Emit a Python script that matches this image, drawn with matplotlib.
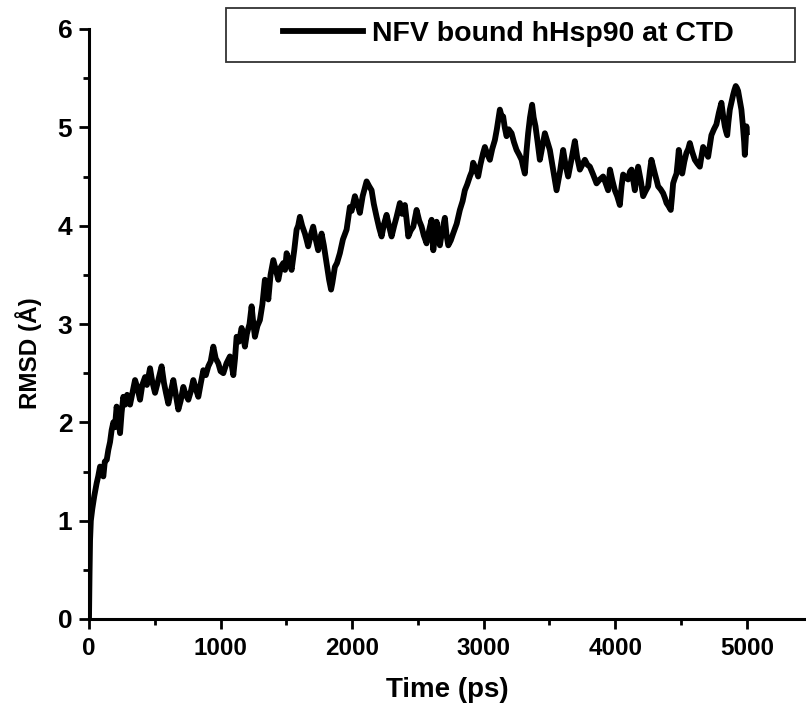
import matplotlib
matplotlib.use("Agg")
import matplotlib.pyplot as plt
from matplotlib.patches import Rectangle
from matplotlib.ticker import MultipleLocator

plt.rcParams['font.family'] = ['Liberation Sans', 'DejaVu Sans']
plt.rcParams['font.weight'] = 'bold'

series_label = "NFV bound hHsp90 at CTD"
x_label = "Time (ps)"
y_label = "RMSD (Å)"

time_ps = [0, 4, 8, 14, 25, 40, 58, 70, 84, 97, 109, 120, 135, 147, 160, 172, 185, 197, 210, 222,
           236, 248, 261, 275, 290, 312, 330, 350, 368, 388, 405, 426, 440, 464, 480, 502, 525, 552,
           570, 585, 603, 620, 641, 660, 679, 697, 717, 735, 755, 775, 793, 812, 831, 850, 869, 888,
           907, 925, 945, 963, 983, 1000, 1021, 1045, 1071, 1085, 1097, 1110, 1122, 1140, 1160, 1172,
           1185, 1200, 1220, 1236, 1248, 1261, 1280, 1299, 1318, 1337, 1350, 1363, 1380, 1401, 1420,
           1439, 1458, 1477, 1490, 1502, 1520, 1540, 1560, 1578, 1590, 1603, 1620, 1641, 1655, 1666,
           1685, 1704, 1720, 1742, 1755, 1768, 1785, 1806, 1825, 1840, 1850, 1869, 1885, 1907, 1930,
           1958, 1983, 1996, 2021, 2040, 2059, 2080, 2110, 2130, 2148, 2165, 2186, 2205, 2224, 2243,
           2262, 2280, 2300, 2320, 2338, 2363, 2380, 2401, 2415, 2427, 2445, 2465, 2490, 2510, 2528,
           2545, 2566, 2585, 2604, 2617, 2630, 2642, 2655, 2667, 2685, 2705, 2718, 2731, 2750, 2768,
           2795, 2819, 2840, 2857, 2875, 2895, 2910, 2920, 2940, 2958, 2975, 2996, 3009, 3030, 3047,
           3065, 3085, 3100, 3123, 3135, 3148, 3160, 3174, 3190, 3212, 3230, 3250, 3270, 3288, 3300,
           3313, 3325, 3338, 3352, 3368, 3380, 3394, 3410, 3427, 3445, 3465, 3485, 3503, 3530, 3554,
           3580, 3604, 3622, 3642, 3668, 3693, 3710, 3731, 3750, 3769, 3788, 3807, 3832, 3858, 3883,
           3908, 3925, 3946, 3960, 3978, 3997, 4015, 4035, 4048, 4060, 4080, 4098, 4112, 4124, 4137,
           4149, 4162, 4174, 4195, 4212, 4230, 4250, 4263, 4275, 4288, 4301, 4315, 4326, 4345, 4364,
           4378, 4390, 4405, 4422, 4432, 4440, 4452, 4466, 4475, 4483, 4496, 4509, 4525, 4541, 4555,
           4567, 4585, 4605, 4625, 4643, 4655, 4668, 4688, 4706, 4720, 4731, 4750, 4769, 4788, 4807,
           4820, 4833, 4842, 4851, 4860, 4871, 4884, 4896, 4906, 4916, 4925, 4934, 4946, 4959, 4970,
           4980, 4985, 4991, 4997, 5000]

rmsd = [0.00, 0.45, 0.80, 1.00, 1.12, 1.25, 1.38, 1.45, 1.55, 1.50, 1.45, 1.60, 1.62, 1.72, 1.80, 1.92, 2.00, 1.95, 2.16, 2.05,
        1.89, 2.10, 2.26, 2.18, 2.28, 2.18, 2.30, 2.43, 2.35, 2.23, 2.38, 2.46, 2.38, 2.55, 2.42, 2.30, 2.42, 2.57,
        2.40, 2.30, 2.19, 2.30, 2.43, 2.28, 2.13, 2.22, 2.36, 2.28, 2.23, 2.32, 2.43, 2.34, 2.26, 2.40, 2.53, 2.48,
        2.57, 2.62, 2.77, 2.65, 2.60, 2.52, 2.50, 2.60, 2.67, 2.58, 2.48, 2.65, 2.87, 2.82, 2.96, 2.88,
        2.77, 2.90, 3.00, 3.18, 3.02, 2.87, 2.98, 3.04, 3.20, 3.45, 3.38, 3.25, 3.50, 3.65, 3.55,
        3.45, 3.58, 3.62, 3.55, 3.72, 3.65, 3.55, 3.75, 3.96, 4.00, 4.09, 4.00, 3.92, 3.85, 3.79,
        3.90, 3.99, 3.88, 3.75, 3.85, 3.92, 3.80, 3.62, 3.45, 3.35, 3.42, 3.58, 3.62, 3.72, 3.86,
        3.96, 4.19, 4.15, 4.30, 4.22, 4.13, 4.30, 4.45, 4.40, 4.36, 4.22, 4.09, 3.98, 3.89, 4.02,
        4.11, 4.00, 3.89, 4.00, 4.09, 4.23, 4.12, 4.21, 4.05, 3.89, 3.95, 3.99, 4.16, 4.05, 3.99,
        3.90, 3.82, 3.95, 4.06, 3.75, 3.90, 4.04, 3.88, 3.80, 3.95, 4.08, 3.90, 3.80, 3.85, 3.92,
        4.02, 4.16, 4.25, 4.36, 4.42, 4.50, 4.55, 4.64, 4.58, 4.50, 4.62, 4.74, 4.80, 4.72, 4.67,
        4.78, 4.87, 4.98, 5.18, 5.12, 5.11, 5.00, 4.91, 4.98, 4.94, 4.85, 4.77, 4.72, 4.67, 4.60,
        4.53, 4.75, 4.94, 5.10, 5.23, 5.10, 5.01, 4.85, 4.67, 4.80, 4.94, 4.85, 4.77, 4.55, 4.36,
        4.55, 4.77, 4.62, 4.50, 4.68, 4.86, 4.70, 4.57, 4.62, 4.67, 4.62, 4.60, 4.52, 4.43, 4.47,
        4.50, 4.44, 4.36, 4.57, 4.46, 4.36, 4.30, 4.21, 4.40, 4.52, 4.49, 4.47, 4.55, 4.57, 4.46,
        4.36, 4.50, 4.60, 4.45, 4.30, 4.35, 4.40, 4.55, 4.67, 4.60, 4.53, 4.46, 4.40, 4.37, 4.33,
        4.28, 4.23, 4.20, 4.16, 4.30, 4.43, 4.48, 4.53, 4.65, 4.77, 4.65, 4.53, 4.65, 4.74, 4.78,
        4.84, 4.75, 4.67, 4.63, 4.60, 4.70, 4.80, 4.75, 4.70, 4.82, 4.92, 4.98, 5.03, 5.15, 5.25,
        5.12, 5.01, 4.96, 4.92, 5.05, 5.18, 5.26, 5.33, 5.38, 5.42, 5.40, 5.37, 5.28, 5.18, 5.02,
        4.85, 4.72, 4.85, 5.01, 4.95]

x_ticks = [0, 1000, 2000, 3000, 4000, 5000]
y_ticks = [0, 1, 2, 3, 4, 5, 6]

W, H = 806, 717
fig = plt.figure(figsize=(W / 100, H / 100), dpi=100)
ax = fig.add_axes([89 / W, 1 - 619 / H, 1 - 89 / W, (619 - 29) / H])

ax.plot(time_ps, rmsd, color='black', lw=4.2, solid_joinstyle='round', label=series_label)

ax.set_xlim(0, 5450)
ax.set_ylim(0, 6)
ax.set_xticks(x_ticks)
ax.set_yticks(y_ticks)
ax.xaxis.set_minor_locator(MultipleLocator(500))
ax.yaxis.set_minor_locator(MultipleLocator(0.5))

for s in ['top', 'right']:
    ax.spines[s].set_visible(False)
for s in ['left', 'bottom']:
    ax.spines[s].set_linewidth(2.2)

ax.tick_params(axis='both', which='major', direction='out', length=7, width=2.0)
ax.tick_params(axis='both', which='minor', direction='out', length=4.5, width=2.0)
ax.tick_params(axis='x', which='major', labelsize=17.5, pad=6)
ax.tick_params(axis='y', which='major', labelsize=19, pad=5)
for lab in ax.get_xticklabels() + ax.get_yticklabels():
    lab.set_fontweight('bold')

ax.set_xlabel(x_label, fontsize=20, fontweight='bold', labelpad=12)
ax.set_ylabel(y_label, fontsize=17.5, fontweight='bold', labelpad=10)
ax.yaxis.set_label_coords(-0.066, 0.45)

# legend frame and entry
fig.patches.append(Rectangle((226 / W, 1 - 62 / H), (795 - 226) / W, (62 - 8) / H,
                             transform=fig.transFigure, fill=False, edgecolor='#333333', lw=1.3))
leg = fig.legend(loc='center', bbox_to_anchor=((282 + 735) / 2 / W, 1 - 34 / H),
                 frameon=False, prop={'weight': 'bold', 'size': 20.5},
                 handlelength=2.8, handletextpad=0.3, borderpad=0)

fig.savefig('out.png', dpi=100)
